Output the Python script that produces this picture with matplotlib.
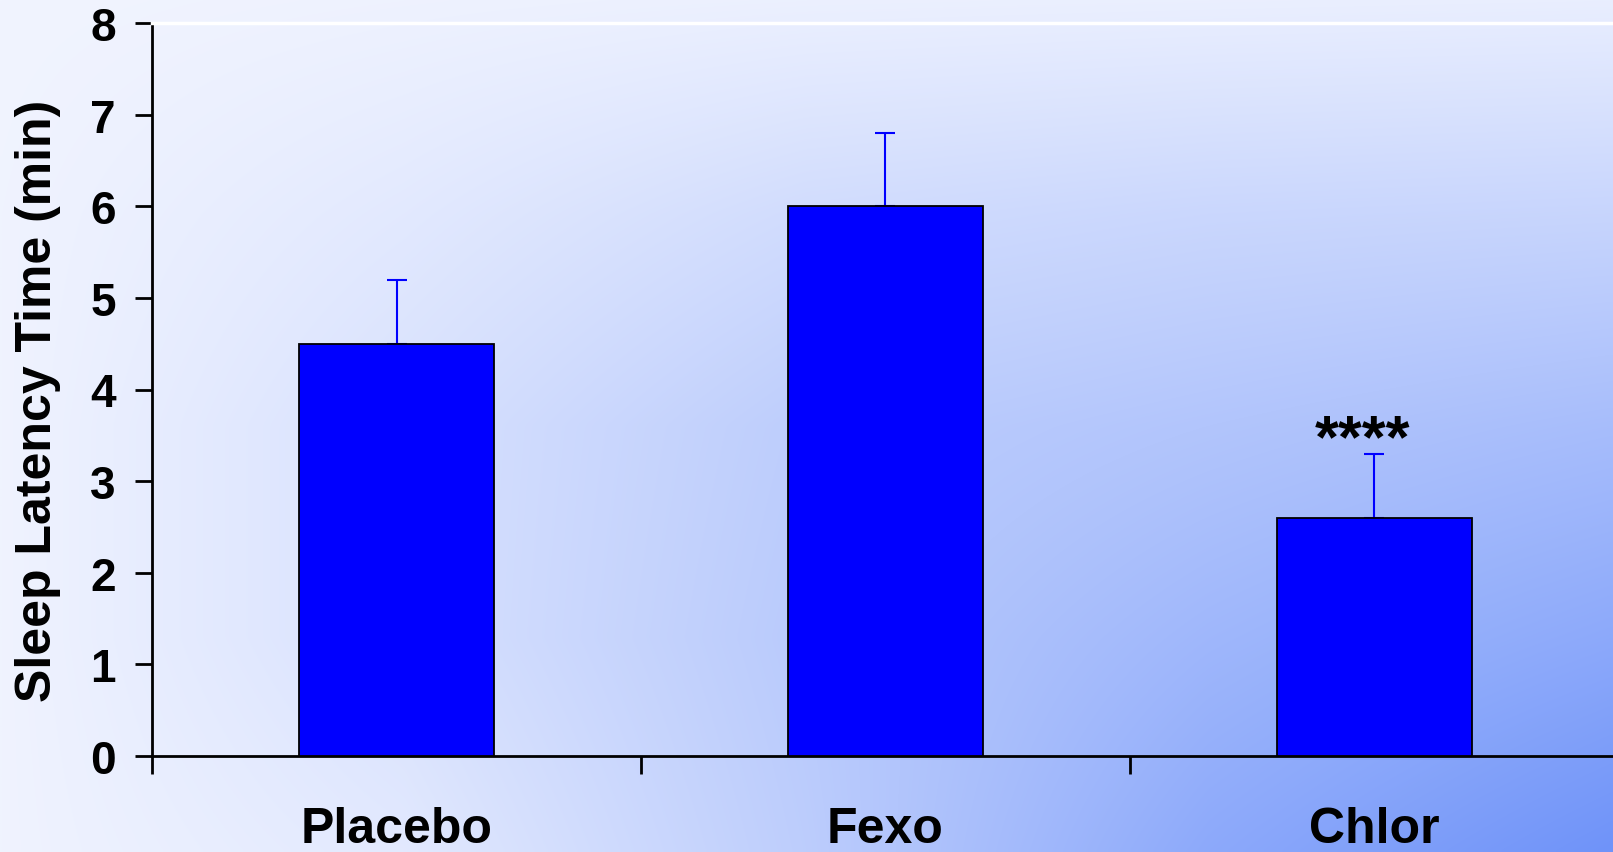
import numpy as np
import matplotlib
matplotlib.use("Agg")
import matplotlib.pyplot as plt

plt.rcParams['font.family'] = ['Liberation Sans', 'DejaVu Sans']
plt.rcParams['font.weight'] = 'bold'

groups = ['Placebo', 'Fexo', 'Chlor']
latency = [4.5, 6.0, 2.6]
sem = [0.7, 0.8, 0.7]
sig = ['', '', '****']
yticks = [0, 1, 2, 3, 4, 5, 6, 7, 8]

W, H = 1613, 853
fig = plt.figure(figsize=(W / 100, H / 100), dpi=100)

# background shading, rough blue amount on a 5x5 grid (rows top->bottom, cols left->right)
shade = np.array([
    [0.03, 0.05, 0.07, 0.08, 0.09],
    [0.04, 0.14, 0.27, 0.32, 0.34],
    [0.04, 0.22, 0.42, 0.50, 0.58],
    [0.04, 0.22, 0.45, 0.64, 0.78],
    [0.04, 0.14, 0.42, 0.78, 1.00],
])
g = np.linspace(0, 1, 5)
u = np.linspace(0, 1, 400)
v = np.linspace(0, 1, 220)
rows = np.array([np.interp(u, g, r) for r in shade])
f = np.array([np.interp(v, g, rows[:, i]) for i in range(len(u))]).T
light = np.array([245, 247, 255]) / 255
dark = np.array([111, 147, 249]) / 255
img = light + f[..., None] * (dark - light)

bg = fig.add_axes([0, 0, 1, 1], zorder=-10)
bg.imshow(img, aspect='auto', extent=[0, 1, 0, 1], origin='upper', interpolation='bilinear')
bg.set_axis_off()

left = 152 / W
bottom = (H - 757) / H
top = (H - 24) / H
ax = fig.add_axes([left, bottom, 1 - left, top - bottom])
ax.patch.set_alpha(0)

x = np.arange(len(groups)) + 0.5
ax.bar(x, latency, width=0.4, color='#0000ff', edgecolor='black', linewidth=1.3, zorder=3)
ax.errorbar(x, latency, yerr=[np.zeros(len(sem)), sem], fmt='none', ecolor='#0000ff',
            elinewidth=1.5, capsize=7, capthick=1.5, zorder=2)

for xi, m, s, lab in zip(x, latency, sem, sig):
    if lab:
        ax.text(xi - 0.025, m + s - 0.17, lab, ha='center', va='bottom', fontsize=44,
                fontweight='bold')

ax.set_xlim(0, (W - 152) / 489)
ax.set_ylim(0, 8)
ax.set_yticks(yticks)
ax.set_xticks([0, 1, 2])
ax.set_xticklabels([])
ax.set_xticks(x, minor=True)
ax.set_xticklabels(groups, minor=True, fontsize=36, fontweight='bold')
ax.tick_params(axis='x', which='minor', length=0, pad=36)
ax.tick_params(axis='x', which='major', direction='out', length=13, width=2)
ax.tick_params(axis='y', direction='out', length=12, width=2, labelsize=33, pad=14)
for t in ax.get_yticklabels():
    t.set_fontweight('bold')

ax.spines['right'].set_visible(False)
ax.spines['top'].set_color('white')
ax.spines['top'].set_linewidth(2.5)
ax.spines['left'].set_linewidth(2)
ax.spines['bottom'].set_linewidth(2)

fig.text(38 / W, 1 - 401 / H, 'Sleep Latency Time (min)', rotation=90, ha='center',
         va='center', fontsize=36, fontweight='bold')

fig.savefig('out.png', dpi=100)
